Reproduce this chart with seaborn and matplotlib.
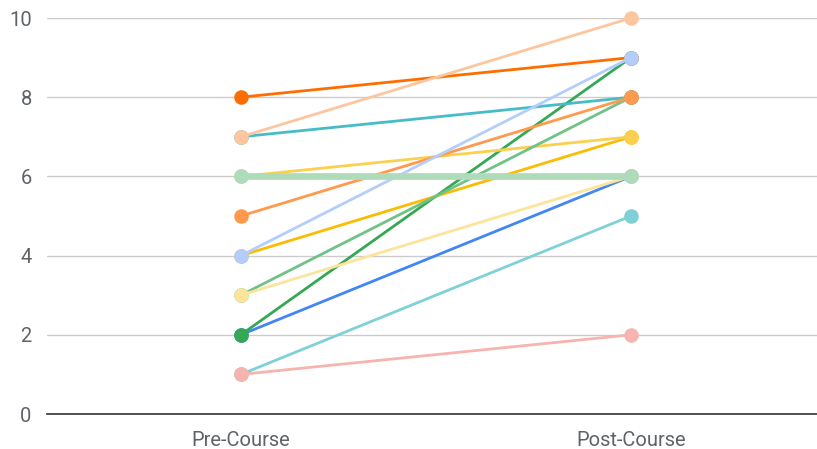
import matplotlib
matplotlib.use("Agg")
import matplotlib.pyplot as plt
import seaborn as sns
import pandas as pd

categories = ["Pre-Course", "Post-Course"]
pre_scores = [2, 4, 2, 8, 7, 6, 3, 5, 1, 4, 1, 3, 6, 7]
post_scores = [6, 7, 9, 9, 8, 7, 8, 8, 5, 9, 2, 6, 6, 10]
series_colors = ["#4285F4", "#FBBC04", "#34A853", "#FF6D01", "#46BDC6", "#FCD04F",
                 "#71C287", "#FF994D", "#7ED1D7", "#B3CEFB", "#F7B4AE", "#FDE49B",
                 "#AEDCBA", "#FDC69E"]
line_widths = [2.0] * 14
line_widths[12] = 4.8
y_ticks = [0, 2, 4, 6, 8, 10]

sns.set_theme(style="white")
plt.rcParams["font.family"] = ["Roboto", "DejaVu Sans"]

fig = plt.figure(figsize=(8.17, 4.49), dpi=100)
ax = fig.add_axes([47 / 817, 1 - 414 / 449, 1 - 47 / 817, (414 - 18) / 449])

for i, (a, b) in enumerate(zip(pre_scores, post_scores)):
    df = pd.DataFrame({"stage": categories, "score": [a, b]})
    sns.lineplot(data=df, x="stage", y="score", ax=ax, color=series_colors[i],
                 linewidth=line_widths[i], marker="o", markersize=10.5,
                 markeredgewidth=0, sort=False, clip_on=False, zorder=3 + i * 0.01)

ax.set_xlim(-0.497, 1.477)
ax.set_ylim(0, 10)
ax.set_yticks(y_ticks)
ax.yaxis.grid(True, color="#cccccc", linewidth=1)
ax.xaxis.grid(False)
ax.set_axisbelow(True)
for s in ["left", "right", "top"]:
    ax.spines[s].set_visible(False)
ax.spines["bottom"].set_color("#333333")
ax.spines["bottom"].set_linewidth(1.2)
ax.spines["bottom"].set_zorder(2)
ax.set_xlabel("")
ax.set_ylabel("")
ax.tick_params(axis="both", length=0, labelsize=14.5, colors="#5f6368")
ax.tick_params(axis="y", pad=11)
ax.tick_params(axis="x", pad=12)

fig.savefig("out.png", dpi=100)
